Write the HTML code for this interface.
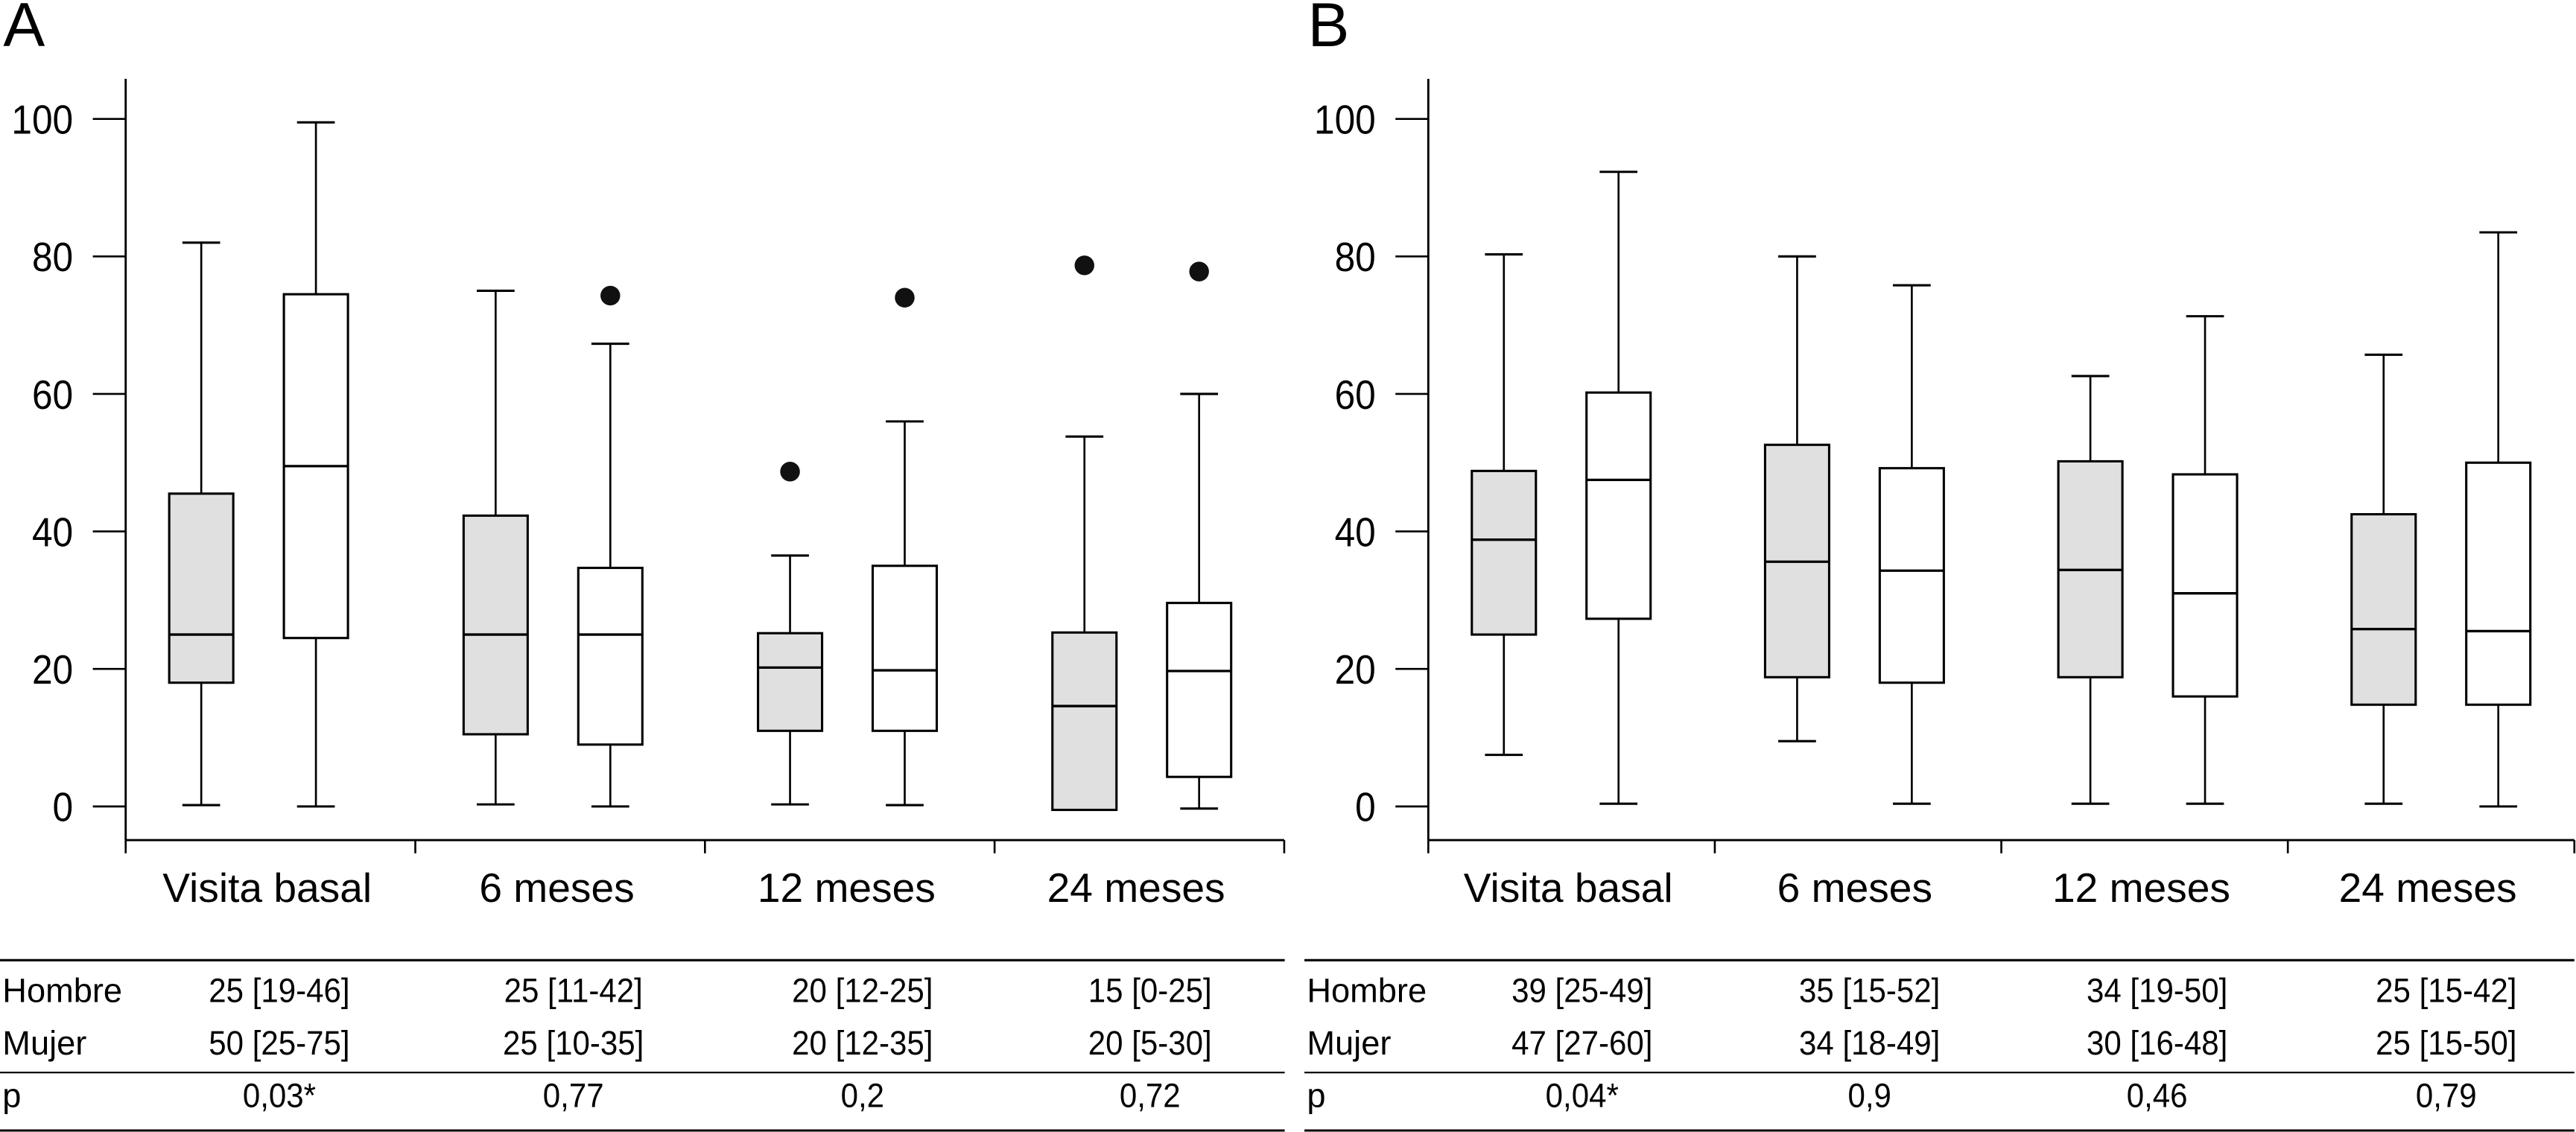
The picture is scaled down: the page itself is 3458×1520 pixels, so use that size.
<!DOCTYPE html>
<html><head><meta charset="utf-8">
<style>
html,body{margin:0;padding:0;background:#fff;}
svg{display:block;font-family:"Liberation Sans",sans-serif;}
</style></head>
<body>
<svg id="fig" width="3458" height="1520" viewBox="0 0 1568 689.2" preserveAspectRatio="none" xmlns="http://www.w3.org/2000/svg"></svg>
<script>
const categories = ["Visita basal","6 meses","12 meses","24 meses"];
const yTicks = [0,20,40,60,80,100];
// Panel A: [min, q1, median, q3, max]
const aHombre = [[0.2,18,25,45.5,82],[0.3,10.5,25,42.3,75],[0.3,11,20.2,25.2,36.5],[-0.5,-0.5,14.6,25.3,53.8]];
const aMujer  = [[0,24.5,49.5,74.5,99.5],[0,9,25,34.7,67.3],[0.2,11,19.8,35,56],[-0.3,4.3,19.7,29.6,60]];
const aHombreOut = [[],[],[48.7],[78.7]];
const aMujerOut  = [[],[74.3],[74],[77.8]];
// Panel B
const bHombre = [[7.5,25,38.8,48.8,80.3],[9.5,18.8,35.6,52.6,80],[0.4,18.8,34.4,50.2,62.6],[0.4,14.8,25.8,42.5,65.7]];
const bMujer  = [[0.4,27.3,47.5,60.2,92.3],[0.4,18,34.3,49.2,75.8],[0.4,16,31,48.3,71.3],[0,14.8,25.5,50,83.5]];
const bHombreOut = [[],[],[],[]];
const bMujerOut  = [[],[],[],[]];
// Tables
const aHombreTxt = ["25 [19-46]","25 [11-42]","20 [12-25]","15 [0-25]"];
const aMujerTxt  = ["50 [25-75]","25 [10-35]","20 [12-35]","20 [5-30]"];
const aPTxt      = ["0,03*","0,77","0,2","0,72"];
const bHombreTxt = ["39 [25-49]","35 [15-52]","34 [19-50]","25 [15-42]"];
const bMujerTxt  = ["47 [27-60]","34 [18-49]","30 [16-48]","25 [15-50]"];
const bPTxt      = ["0,04*","0,9","0,46","0,79"];

const NS="http://www.w3.org/2000/svg";
const svg=document.getElementById('fig');
function mk(tag,attrs,parent,text){const e=document.createElementNS(NS,tag);for(const k in attrs)e.setAttribute(k,attrs[k]);if(text!==undefined)e.textContent=text;(parent||svg).appendChild(e);return e;}
function yS(v){return 491-v*4.186;}
function txt(parent,x,y,size,anchor,sx,s){
  return mk('text',{transform:`translate(${x},${y}) scale(${sx},1)`,'font-size':size,'text-anchor':anchor},parent,s);
}

function panel(cfg){
  const {px,letter,hom,muj,homOut,mujOut,hTxt,mTxt,pTxt,tag,ax,cw,bsp,cols,tEnd}=cfg;
  const g=mk('g',{});
  
  
  const L=txt(g,px+2,28,38,'start',1,letter);
  
  const axY=511.5;
  const ya=mk('line',{x1:ax,y1:48,x2:ax,y2:axY,stroke:'#000','stroke-width':1.3},g);
  
  const xa=mk('line',{x1:ax,y1:axY,x2:ax+4*cw,y2:axY,stroke:'#000','stroke-width':1.3},g);
  
  yTicks.forEach(t=>{
    const tl=mk('line',{x1:ax-20,y1:yS(t),x2:ax,y2:yS(t),stroke:'#000','stroke-width':1.2},g);
    
    const tt=txt(g,ax-32,yS(t)+9,25,'end',0.9,String(t));
    
  });
  for(let i=0;i<=4;i++){
    const tk=mk('line',{x1:ax+i*cw,y1:axY,x2:ax+i*cw,y2:axY+8,stroke:'#000','stroke-width':1.2},g);
    
  }
  categories.forEach((c,i)=>{
    const ct=txt(g,ax+i*cw+cw/2-2,549,25,'middle',1,c);
    
    [[hom[i],homOut[i],46,'#e0e0e0','hombre'],[muj[i],mujOut[i],115.8,'#fff','mujer']].forEach(([s,out,off,fill,nm])=>{
      const cx=ax+off+i*bsp, w=39, x0=cx-w/2;
      const bg=mk('g',{},g);
      
      mk('line',{x1:cx,y1:yS(s[4]),x2:cx,y2:yS(s[3]),stroke:'#000','stroke-width':1.2},bg);
      mk('line',{x1:cx,y1:yS(s[1]),x2:cx,y2:yS(s[0]),stroke:'#000','stroke-width':1.2},bg);
      mk('line',{x1:cx-11.5,y1:yS(s[4]),x2:cx+11.5,y2:yS(s[4]),stroke:'#000','stroke-width':1.4},bg);
      mk('line',{x1:cx-11.5,y1:yS(s[0]),x2:cx+11.5,y2:yS(s[0]),stroke:'#000','stroke-width':1.4},bg);
      mk('rect',{x:x0,y:yS(s[3]),width:w,height:yS(s[1])-yS(s[3]),fill:fill,stroke:'#000','stroke-width':1.4},bg);
      mk('line',{x1:x0,y1:yS(s[2]),x2:x0+w,y2:yS(s[2]),stroke:'#000','stroke-width':1.5},bg);
      out.forEach(o=>{
        const c2=mk('circle',{cx:cx,cy:yS(o),r:6,fill:'#111'},g);
        
      });
    });
  });
  // table
  [584.6,653,688.3].forEach((y,k)=>{
    const l=mk('line',{x1:px,y1:y,x2:tEnd,y2:y,stroke:'#000','stroke-width':k===1?1:1.4},g);
    
  });
  [['Hombre',hTxt,610],['Mujer',mTxt,642],['p',pTxt,674]].forEach(([lab,arr,y])=>{
    const rl=txt(g,px+1.5,y,20.5,'start',1,lab);
    
    arr.forEach((v,i)=>{
      const ct=txt(g,px+cols[i],y,20.5,'middle',0.93,v);
      
    });
  });
}
panel({px:0,letter:'A',hom:aHombre,muj:aMujer,homOut:aHombreOut,mujOut:aMujerOut,hTxt:aHombreTxt,mTxt:aMujerTxt,pTxt:aPTxt,tag:'a',
  ax:76.5,cw:176.3,bsp:179.2,cols:[170,349,525,700],tEnd:782});
panel({px:794,letter:'B',hom:bHombre,muj:bMujer,homOut:bHombreOut,mujOut:bMujerOut,hTxt:bHombreTxt,mTxt:bMujerTxt,pTxt:bPTxt,tag:'b',
  ax:869.4,cw:174.4,bsp:178.5,cols:[169,344,519,695],tEnd:1567});
</script>
</body></html>
